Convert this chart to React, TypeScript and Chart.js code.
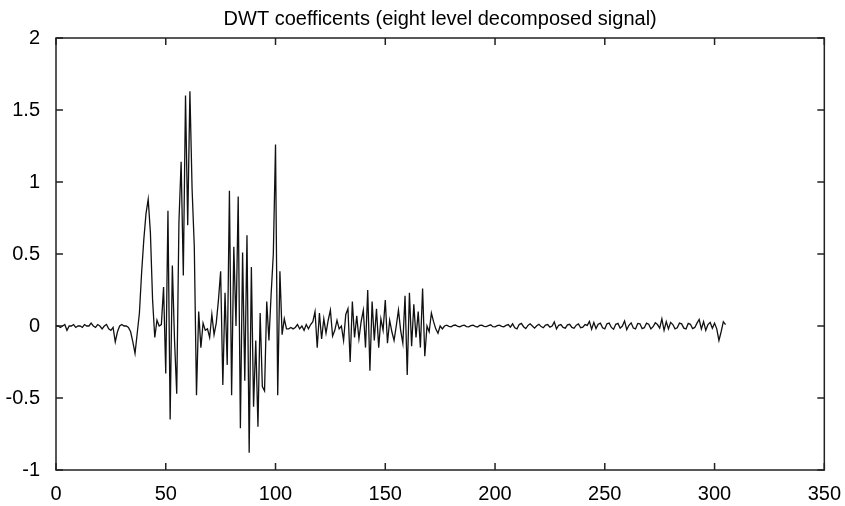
import { useEffect, useRef } from "react";
import { Chart, registerables } from "chart.js";

Chart.register(...registerables);

const TITLE = "DWT coefficents (eight level decomposed signal)";

// x axis ticks 0..350 step 50, y axis ticks -1..2 step 0.5
const X_TICKS = [0, 50, 100, 150, 200, 250, 300, 350];
const Y_TICKS = [-1, -0.5, 0, 0.5, 1, 1.5, 2];

// DWT coefficients, sample index 0..305
const coeffs: number[] = [
  // 0-9
  0.0, 0.0, -0.01, 0.0, 0.01, -0.03, 0.0, 0.0, 0.01, -0.01,
  // 10-19
  0.0, 0.0, -0.01, 0.01, 0.0, 0.0, 0.02, 0.0, -0.01, 0.01,
  // 20-29
  0.0, -0.02, 0.0, 0.01, -0.02, -0.03, -0.01, -0.11, -0.04, 0.0,
  // 30-39
  0.01, 0.0, 0.0, -0.01, -0.04, -0.11, -0.19, -0.05, 0.09, 0.37,
  // 40-49
  0.6, 0.78, 0.88, 0.65, 0.18, -0.08, 0.04, 0.0, 0.01, 0.27,
  // 50-59
  -0.33, 0.8, -0.65, 0.42, -0.1, -0.47, 0.72, 1.14, 0.35, 1.6,
  // 60-69
  0.7, 1.63, 0.95, 0.55, -0.48, 0.1, -0.15, 0.02, -0.03, -0.02,
  // 70-79
  -0.08, 0.08, -0.06, 0.02, 0.18, 0.38, -0.41, 0.23, -0.27, 0.94,
  // 80-89
  -0.48, 0.55, 0.0, 0.9, -0.71, 0.51, -0.38, 0.63, -0.88, 0.41,
  // 90-99
  -0.56, -0.1, -0.7, 0.09, -0.42, -0.45, 0.17, -0.1, 0.22, 0.5,
  // 100-109
  1.26, -0.48, 0.38, -0.06, 0.05, -0.02, -0.02, -0.01, -0.02, -0.01,
  // 110-119
  0.01, -0.02, 0.0, -0.03, 0.01, -0.02, 0.01, 0.03, 0.1, -0.15,
  // 120-129
  0.09, -0.09, 0.05, -0.05, 0.04, 0.11, -0.07, -0.03, 0.04, -0.02,
  // 130-139
  0.0, -0.1, 0.08, 0.12, -0.25, 0.17, -0.08, 0.07, -0.09, 0.03,
  // 140-149
  0.11, -0.15, 0.25, -0.31, 0.17, -0.1, 0.12, -0.15, 0.05, -0.03,
  // 150-159
  0.18, -0.12, 0.04, -0.04, -0.1, 0.0, 0.11, -0.03, -0.12, 0.21,
  // 160-169
  -0.34, 0.23, -0.14, 0.15, -0.08, 0.1, -0.15, 0.26, -0.21, 0.0,
  // 170-179
  -0.04, 0.09, 0.03, -0.02, -0.05, 0.0, -0.02, 0.0, 0.006, -0.002,
  // 180-189
  -0.006, 0.004, 0.007, -0.003, -0.005, 0.002, 0.006, -0.004, -0.006, 0.003,
  // 190-199
  0.005, -0.002, -0.007, 0.004, 0.006, -0.003, -0.004, 0.002, 0.008, -0.005,
  // 200-209
  -0.006, 0.003, 0.006, -0.002, -0.005, 0.004, 0.01, -0.008, 0.015, -0.012,
  // 210-219
  -0.02, 0.01, 0.018, -0.005, -0.018, 0.004, 0.015, 0.0, -0.015, 0.002,
  // 220-229
  0.012, -0.004, -0.012, 0.006, 0.01, -0.008, 0.0, 0.028, -0.02, 0.005,
  // 230-239
  0.01, -0.01, -0.015, 0.008, 0.012, -0.01, -0.016, 0.006, 0.014, -0.012,
  // 240-249
  -0.008, 0.01, 0.004, 0.032, -0.022, 0.025, -0.018, 0.012, 0.02, -0.012,
  // 250-259
  -0.02, 0.015, 0.02, -0.01, -0.022, 0.012, 0.018, -0.015, 0.0, 0.035,
  // 260-269
  -0.025, 0.005, 0.022, -0.014, -0.02, 0.018, 0.015, -0.018, -0.012, 0.02,
  // 270-279
  0.012, -0.02, -0.005, 0.022, 0.01, -0.015, 0.05, -0.03, 0.03, -0.02,
  // 280-289
  0.025, 0.01, -0.02, -0.012, 0.02, 0.015, -0.015, -0.02, 0.018, 0.012,
  // 290-299
  -0.018, -0.01, 0.02, 0.045, -0.02, 0.03, -0.03, 0.01, 0.025, -0.015,
  // 300-305
  0.02, -0.02, -0.1, -0.04, 0.03, 0.01,
];

const FONT = "'Liberation Sans', Arial, Helvetica, sans-serif";

// MATLAB-style axes: closed box, inward ticks on all four sides, title centred over the axes
const matlabBox = {
  id: "matlabBox",
  afterDraw(chart: any) {
    const { ctx, chartArea } = chart;
    const { left, right, top, bottom } = chartArea;
    const xs = chart.scales.x;
    const ys = chart.scales.y;
    const tl = 7;
    ctx.save();
    ctx.strokeStyle = "#222";
    ctx.lineWidth = 1.5;
    ctx.strokeRect(left, top, right - left, bottom - top);
    ctx.beginPath();
    xs.ticks.forEach((t: any) => {
      const px = xs.getPixelForValue(t.value);
      ctx.moveTo(px, bottom);
      ctx.lineTo(px, bottom - tl);
      ctx.moveTo(px, top);
      ctx.lineTo(px, top + tl);
    });
    ys.ticks.forEach((t: any) => {
      const py = ys.getPixelForValue(t.value);
      ctx.moveTo(left, py);
      ctx.lineTo(left + tl, py);
      ctx.moveTo(right, py);
      ctx.lineTo(right - tl, py);
    });
    ctx.stroke();
    ctx.fillStyle = "#000";
    ctx.font = `20px ${FONT}`;
    ctx.textAlign = "center";
    ctx.textBaseline = "middle";
    ctx.fillText(TITLE, (left + right) / 2, top - 19);
    ctx.restore();
  },
};

export default function App() {
  const ref = useRef<HTMLCanvasElement | null>(null);

  useEffect(() => {
    if (!ref.current) return;
    const chart = new Chart(ref.current, {
      type: "line",
      data: {
        datasets: [
          {
            data: coeffs.map((v, i) => ({ x: i, y: v })),
            borderColor: "#111",
            borderWidth: 1.3,
            pointRadius: 0,
            tension: 0,
            fill: false,
          },
        ],
      },
      options: {
        animation: false,
        responsive: false,
        devicePixelRatio: 1,
        layout: { padding: { left: 0, right: 19, top: 38, bottom: 0 } },
        plugins: {
          legend: { display: false },
          tooltip: { enabled: false },
          title: { display: false },
        },
        scales: {
          x: {
            type: "linear",
            min: 0,
            max: 350,
            afterBuildTicks: (s: any) => {
              s.ticks = X_TICKS.map((v) => ({ value: v }));
            },
            afterFit: (s: any) => {
              s.height = 36;
            },
            grid: { display: false },
            border: { display: false },
            ticks: {
              color: "#000",
              font: { family: FONT, size: 20 },
              padding: 4,
              maxRotation: 0,
              autoSkip: false,
              callback: (v: any) => String(v),
            },
          },
          y: {
            type: "linear",
            min: -1,
            max: 2,
            afterBuildTicks: (s: any) => {
              s.ticks = Y_TICKS.map((v) => ({ value: v }));
            },
            afterFit: (s: any) => {
              s.width = 56;
            },
            grid: { display: false },
            border: { display: false },
            ticks: {
              color: "#000",
              font: { family: FONT, size: 20 },
              padding: 8,
              autoSkip: false,
              callback: (v: any) => String(v),
            },
          },
        },
      },
      plugins: [matlabBox],
    });
    return () => chart.destroy();
  }, []);

  return (
    <div style={{ position: "fixed", left: 0, top: 0, width: 845, height: 506, background: "#fff" }}>
      <canvas ref={ref} width={845} height={506} />
    </div>
  );
}
